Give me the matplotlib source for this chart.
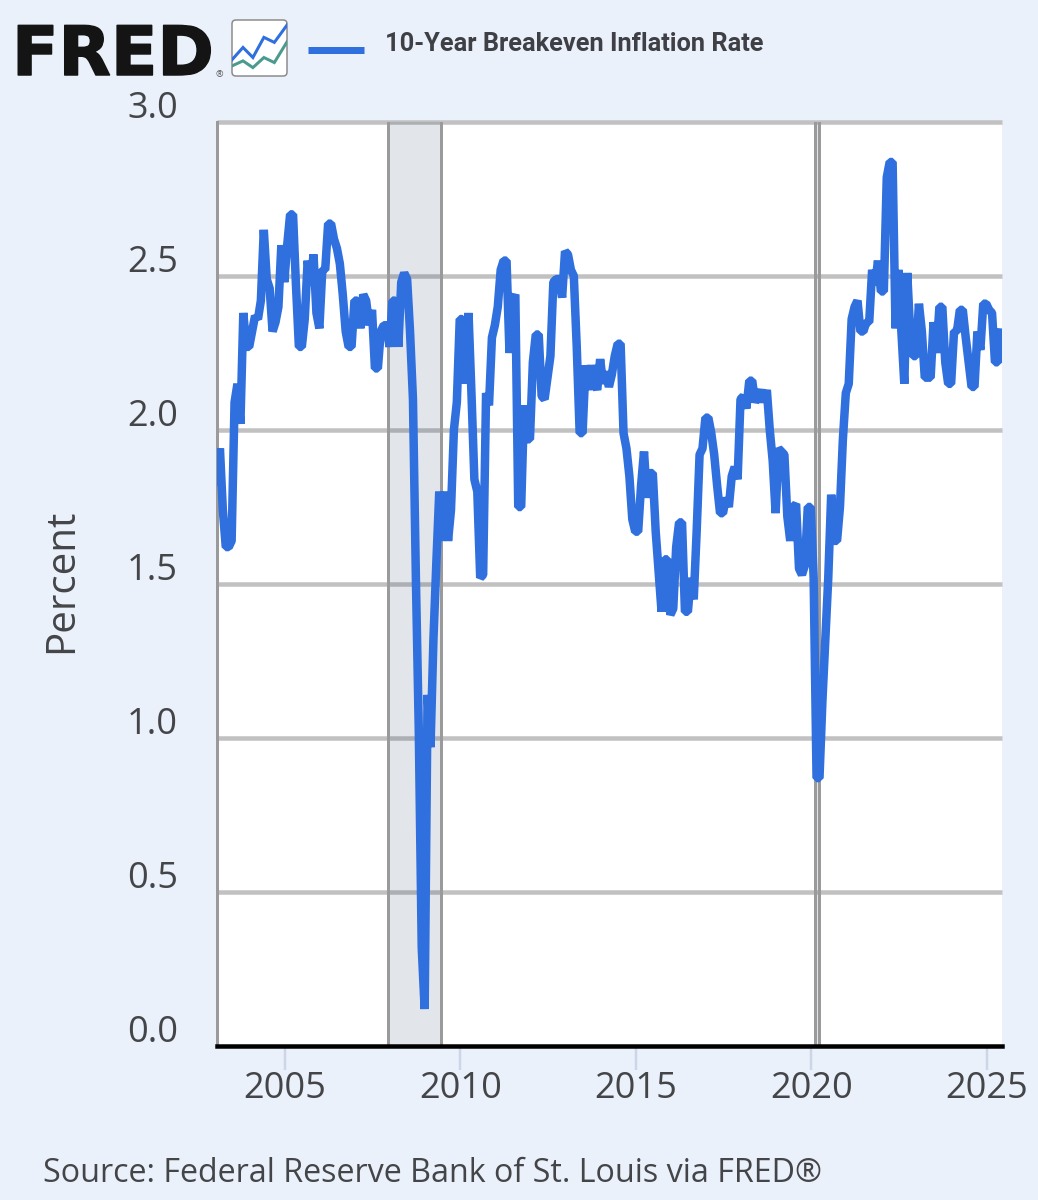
import matplotlib
matplotlib.use("Agg")
import matplotlib.pyplot as plt
import matplotlib.patheffects as pe
from matplotlib.patches import FancyBboxPatch
from matplotlib.transforms import ScaledTranslation
import numpy as np

W, H = 1038, 1200
BG = "#EAF1FA"
BLUE = "#2F6FDE"
TXT = "#444549"

SERIES_NAME = "10-Year Breakeven Inflation Rate"
SOURCE = "Source: Federal Reserve Bank of St. Louis via FRED®"
Y_LABEL = "Percent"
first_month = 2003.063

values_a = [1.82,1.94,1.74,1.62,1.62,1.64,2.09,2.15,2.02,2.38,2.27,2.27,
            2.32,2.37,2.36,2.42,2.65,2.49,2.46,2.32,2.35,2.40,2.60,2.48,
            2.60,2.70,2.70,2.47,2.27,2.27,2.36,2.55,2.47,2.57,2.38,2.33,
            2.52,2.52,2.67,2.67,2.62,2.59,2.54,2.44,2.32,2.27,2.27,2.42,
            2.42,2.33,2.44,2.42,2.34,2.39,2.20,2.20,2.32,2.34,2.34,2.27,
            2.42,2.42,2.27,2.48,2.51,2.49,2.32,2.10,1.52,1.02,0.32,0.12]
values_b = [1.14,0.97,1.32,1.57,1.80,1.64,1.80,1.64,1.74,2.00,2.09,2.36,
            2.36,2.15,2.38,2.12,1.84,1.80,1.52,1.53,2.12,2.08,2.30,2.34,
            2.40,2.52,2.55,2.55,2.25,2.42,2.44,1.75,1.75,2.08,1.97,1.97,
            2.22,2.31,2.31,2.11,2.10,2.17,2.24,2.48,2.49,2.49,2.43,2.58,
            2.57,2.52,2.50,2.27,1.99,1.99,2.21,2.13,2.21,2.16,2.13,2.23,
            2.15,2.19,2.14,2.18,2.24,2.28,2.28,1.99,1.94,1.85,1.71,1.67]
values_c = [1.67,1.82,1.93,1.78,1.86,1.86,1.67,1.54,1.41,1.58,1.58,1.40,
            1.42,1.62,1.70,1.70,1.41,1.41,1.52,1.45,1.67,1.92,1.94,2.04,
            2.04,1.99,1.92,1.82,1.73,1.73,1.78,1.75,1.85,1.88,1.84,2.10,
            2.11,2.07,2.16,2.16,2.09,2.11,2.13,2.09,2.13,2.00,1.90,1.73,
            1.94,1.93,1.92,1.72,1.64,1.75,1.76,1.55,1.53,1.56,1.75,1.75]
values_d = [1.52,0.87,0.87,1.12,1.32,1.52,1.79,1.64,1.64,1.75,1.97,2.12,
            2.15,2.36,2.40,2.42,2.32,2.32,2.35,2.35,2.52,2.47,2.55,2.45,
            2.45,2.82,2.87,2.87,2.33,2.52,2.32,2.15,2.51,2.32,2.24,2.24,
            2.41,2.32,2.17,2.17,2.17,2.35,2.25,2.40,2.40,2.22,2.15,2.15,
            2.32,2.32,2.39,2.39,2.30,2.22,2.14,2.14,2.32,2.26,2.41,2.41,
            2.39,2.38,2.22,2.22,2.33]
values = values_a + values_b + values_c + values_d
years = first_month + np.arange(len(values)) / 12

x_limits = (2003.063, 2025.43)
y_limits = (0.0, 3.0)
x_ticks = [2005, 2010, 2015, 2020, 2025]
y_ticks = [0.0, 0.5, 1.0, 1.5, 2.0, 2.5, 3.0]
recessions = [(2007.93, 2009.44), (2020.10, 2020.21)]

icon_x = [0, 0.2, 0.38, 0.58, 0.77, 1.0]
icon_blue = [0.29, 0.51, 0.33, 0.69, 0.60, 0.91]
icon_green = [0.18, 0.27, 0.15, 0.33, 0.24, 0.61]

plt.rcParams["font.family"] = ["Open Sans", "DejaVu Sans"]
fig = plt.figure(figsize=(W / 100, H / 100), dpi=100, facecolor=BG)
px = 0.72  # points per pixel

def box(l, t, r, b):
    return [l / W, 1 - b / H, (r - l) / W, (b - t) / H]

ax = fig.add_axes(box(217, 122, 1002, 1046), facecolor="white")
ax.set_xlim(*x_limits)
ax.set_ylim(*y_limits)

ax.hlines(y_ticks[1:], *x_limits, color="#C1C1C1", lw=4.5 * px, zorder=1, clip_on=False)
for a, b in recessions:
    ax.axvspan(a, b, facecolor="#1F3A63", alpha=0.13, lw=0, zorder=2)
    ax.axvline(a, color="#9A9A9A", lw=3 * px, zorder=2)
    ax.axvline(b, color="#9A9A9A", lw=3 * px, zorder=2)
ax.plot(years, values, color=BLUE, lw=8.5 * px, solid_joinstyle="bevel",
        solid_capstyle="butt", zorder=3)

for s in ("top", "right"):
    ax.spines[s].set_visible(False)
ax.spines["left"].set_color("#9A9A9A")
ax.spines["left"].set_linewidth(3 * px)
ax.spines["bottom"].set_color("black")
ax.spines["bottom"].set_linewidth(4.5 * px)
ax.spines["bottom"].set_zorder(5)

ax.set_xticks(x_ticks, [str(v) for v in x_ticks])
ax.set_yticks(y_ticks, [f"{v:.1f}" for v in y_ticks])
ax.tick_params(axis="x", length=24 * px, width=2.5 * px, color="#CCD6E8",
               labelsize=26, labelcolor=TXT, pad=1)
ax.tick_params(axis="y", length=0, labelsize=26, labelcolor=TXT, pad=39 * px)
shift = ScaledTranslation(0, 17 / 100, fig.dpi_scale_trans)
for lab in ax.get_yticklabels():
    lab.set_transform(lab.get_transform() + shift)

fig.text(62 / W, 1 - 581 / H, Y_LABEL, rotation=90, ha="center", va="center",
         fontsize=29, color=TXT)
fig.text(43 / W, 1 - 1174 / H, SOURCE, ha="left", va="center", fontsize=23.2, color=TXT)

# header
logo = fig.text(12 / W, 1 - 75 / H, "FRED", ha="left", va="baseline", fontsize=49,
                fontweight="bold", family=["DejaVu Sans"], color="#141414")
logo.set_path_effects([pe.withStroke(linewidth=1.5 * px, foreground="#141414")])
fig.text(216 / W, 1 - 77 / H, "®", ha="left", va="baseline", fontsize=6.5, color="#555555")
fig.text(385 / W, 1 - 44 / H, SERIES_NAME, ha="left", va="center", fontsize=18.3,
         fontweight="bold", family=["Roboto", "DejaVu Sans"], color="#3F4045")
fig.add_artist(plt.Line2D([308 / W, 364 / W], [1 - 50 / H] * 2, color=BLUE, lw=7 * px,
                          solid_capstyle="butt"))

icon = fig.add_axes(box(232, 20, 287, 76))
icon.set_xlim(0, 1)
icon.set_ylim(0, 1)
icon.axis("off")
icon.add_patch(FancyBboxPatch((0, 0), 1, 1, boxstyle="round,pad=0,rounding_size=0.07",
                              fc="white", ec="#8A8A8A", lw=1.5 * px, clip_on=False))
icon.plot(icon_x, icon_blue, color=BLUE, lw=3 * px, solid_joinstyle="miter")
icon.plot(icon_x, icon_green, color="#4A9A8E", lw=3 * px, solid_joinstyle="miter")

fig.savefig("out.png", dpi=100, facecolor=BG)
